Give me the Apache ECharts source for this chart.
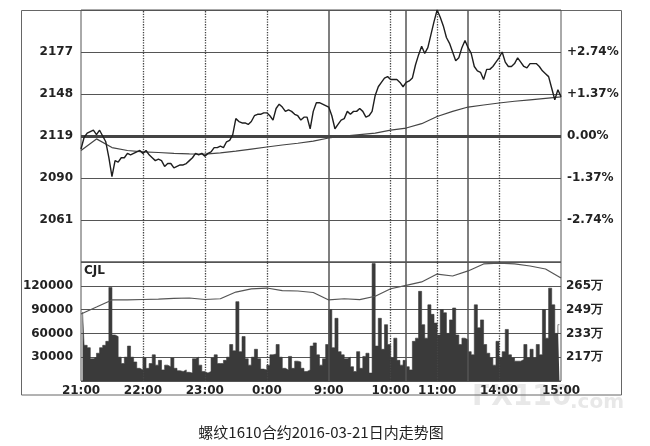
<!DOCTYPE html>
<html><head><meta charset="utf-8">
<script src="https://cdn.jsdelivr.net/npm/echarts@6/dist/echarts.min.js"></script>
<style>html,body{margin:0;padding:0;background:#fff}#c{width:650px;height:446px}</style>
</head><body><div id="c"></div>
<script>
// ---- data (x = trading-minute index from 21:00; night 21:00-1:00, day 9:00-10:15, 10:30-11:30, 13:30-15:00) ----
const priceStep = 3;
const price = [
  2110,2118,2121,2122,2123,2120,2123,2119,2115,2104,
  2091,2102,2101,2104,2104,2107,2106,2107,2108,2109,
  2107,2109,2106,2104,2102,2103,2102,2098,2100,2100,
  2097,2098,2099,2099,2100,2102,2104,2107,2106,2107,
  2105,2107,2108,2111,2111,2112,2111,2115,2116,2120,
  2131,2129,2128,2128,2127,2129,2133,2134,2134,2135,
  2135,2133,2130,2138,2141,2139,2136,2137,2136,2134,
  2133,2130,2132,2132,2124,2136,2142,2142,2141,2140,
  2139,2133,2124,2127,2130,2131,2136,2134,2136,2136,
  2138,2136,2132,2133,2136,2147,2153,2156,2159,2160,
  2158,2158,2158,2156,2153,2156,2157,2159,2168,2175,
  2181,2176,2180,2189,2198,2206,2201,2195,2187,2183,
  2177,2171,2173,2180,2185,2180,2176,2167,2164,2163,
  2158,2165,2165,2167,2170,2173,2177,2170,2167,2167,
  2169,2173,2170,2167,2166,2169,2169,2169,2167,2164,
  2162,2160,2152,2144,2151,2146
];
const avgStep = 15;
const avgPrice = [
  2109,2117,2111,2109,2108,2107.6,2107,2106.7,2106.5,2107.3,
  2108.6,2110,2111.4,2112.8,2114,2115.5,2117.6,2119,2120,2121,
  2123,2124.5,2127.5,2132.5,2136,2139,2140.4,2141.8,2143,2144,
  2145,2146
];
const volStep = 3;
const volume = [
  87000,45000,42000,28000,30000,35000,42000,45000,50000,118000,
  58000,56000,30000,22000,30000,44000,30000,24000,16000,14000,
  29000,16000,22000,33000,20000,26000,14000,20000,18000,29000,
  16000,13000,12000,14000,11000,10000,28000,30000,20000,12000,
  10000,12000,29000,33000,22000,22000,26000,30000,46000,38000,
  100000,37000,56000,28000,20000,30000,40000,28000,15000,14000,
  20000,33000,34000,46000,30000,16000,14000,31000,16000,25000,
  24000,16000,12000,14000,44000,48000,33000,20000,28000,46000,
  90000,42000,79000,37000,33000,28000,30000,18000,12000,37000,
  16000,31000,35000,10000,148000,44000,79000,40000,71000,46000,
  29000,54000,26000,20000,26000,18000,14000,50000,54000,113000,
  71000,54000,96000,84000,73000,58000,90000,86000,60000,77000,
  92000,58000,46000,54000,52000,37000,33000,96000,67000,77000,
  46000,35000,29000,20000,50000,29000,37000,65000,33000,29000,
  25000,25000,27000,46000,29000,40000,29000,46000,33000,90000,
  54000,117000,96000,60000,71000
];
const oiStep = 15;
const openInterest = [ // 万手
  246.0,250.7,255.5,255.5,255.8,256.1,256.5,256.8,255.8,256.3,
  260.8,262.9,263.5,261.8,261.5,260.5,255.5,256.3,255.7,258.0,
  263.0,265.3,267.6,272.9,271.6,275.0,279.7,280.3,279.7,278.3,
  276.3,270.2
];
const prevSettle = 2119;
const priceTicks = [2061, 2090, 2119, 2148, 2177];
const pctLabels = ['-2.74%', '-1.37%', '0.00%', '+1.37%', '+2.74%'];
const volTicks = [30000, 60000, 90000, 120000];
const oiTicks = [217, 233, 249, 265];
const oiLabels = ['217万', '233万', '249万', '265万'];
const timeTickPos = [0, 60, 120, 180, 240, 300, 345, 405, 465];
const timeTickLabels = ['21:00', '22:00', '23:00', '0:00', '9:00', '10:00', '11:00', '14:00', '15:00'];
const sessionBreaks = [240, 315, 375];
const hourLines = [60, 120, 180, 300, 345, 405];
const titleText = '螺纹1610合约2016-03-21日内走势图';

// ---- chart ----
const FONT = 'DejaVu Sans';
const lblStyle = { fontFamily: FONT, fontWeight: 'bold', fontSize: 12, color: '#222' };
const vLines = [
  ...sessionBreaks.map(x => ({ xAxis: x, lineStyle: { type: 'solid', color: '#555', width: 1.5 } })),
  ...hourLines.map(x => ({ xAxis: x, lineStyle: { type: 'dotted', color: '#444', width: 1.3 } }))
];
const chart = echarts.init(document.getElementById('c'), null, { renderer: 'canvas' });
chart.setOption({
  animation: false,
  backgroundColor: '#fff',
  grid: [
    { left: 81, top: 10, width: 480, height: 252, show: true, borderColor: '#555', borderWidth: 1, backgroundColor: 'transparent' },
    { left: 81, top: 262, width: 480, height: 119, show: true, borderColor: '#555', borderWidth: 1, backgroundColor: 'transparent' }
  ],
  xAxis: [
    { type: 'value', gridIndex: 0, min: 0, max: 465, interval: 15, axisLine: { show: false }, axisTick: { show: false }, splitLine: { show: false }, axisLabel: { show: false } },
    { type: 'value', gridIndex: 1, min: 0, max: 465, interval: 15, axisLine: { show: false }, axisTick: { show: false }, splitLine: { show: false },
      axisLabel: Object.assign({ margin: 4, showMinLabel: true, showMaxLabel: true,
        formatter: v => { const i = timeTickPos.indexOf(Math.round(v)); return i >= 0 ? timeTickLabels[i] : ''; } }, lblStyle) }
  ],
  yAxis: [
    { type: 'value', gridIndex: 0, min: 2032, max: 2206, interval: 29, position: 'left',
      axisLine: { show: false }, axisTick: { show: false },
      splitLine: { show: true, lineStyle: { color: '#555', width: 1 } },
      axisLabel: Object.assign({ margin: 8, formatter: v => priceTicks.includes(Math.round(v)) ? String(Math.round(v)) : '' }, lblStyle) },
    { type: 'value', gridIndex: 0, min: 2032, max: 2206, interval: 29, position: 'right',
      axisLine: { show: false }, axisTick: { show: false }, splitLine: { show: false },
      axisLabel: Object.assign({ margin: 6, formatter: v => { const i = priceTicks.indexOf(Math.round(v)); return i >= 0 ? pctLabels[i] : ''; } }, lblStyle) },
    { type: 'value', gridIndex: 1, min: 0, max: 150000, interval: 30000, position: 'left',
      axisLine: { show: false }, axisTick: { show: false },
      splitLine: { show: true, lineStyle: { color: '#555', width: 1 } },
      axisLabel: Object.assign({ margin: 8, formatter: v => volTicks.includes(Math.round(v)) ? String(Math.round(v)) : '' }, lblStyle) },
    { type: 'value', gridIndex: 1, min: 201, max: 281, interval: 16, position: 'right',
      axisLine: { show: false }, axisTick: { show: false }, splitLine: { show: false },
      axisLabel: Object.assign({ margin: 5, formatter: v => { const i = oiTicks.indexOf(Math.round(v)); return i >= 0 ? oiLabels[i] : ''; } }, lblStyle) }
  ],
  series: [
    { name: 'avg', type: 'line', xAxisIndex: 0, yAxisIndex: 0, showSymbol: false, z: 2,
      lineStyle: { color: '#444', width: 1.2 },
      data: avgPrice.map((v, i) => [i * avgStep, v]),
      markLine: { silent: true, symbol: 'none', label: { show: false }, z: 1,
        data: [...vLines, { yAxis: prevSettle, lineStyle: { type: 'solid', color: '#444', width: 3 } }] } },
    { name: 'price', type: 'line', xAxisIndex: 0, yAxisIndex: 0, showSymbol: false, z: 3,
      lineStyle: { color: '#1e1e1e', width: 1.4 },
      data: price.map((v, i) => [i * priceStep, v]) },
    { name: 'volume', type: 'line', step: 'middle', xAxisIndex: 1, yAxisIndex: 2, showSymbol: false, z: 2,
      lineStyle: { width: 0.6, color: '#3a3a3a' },
      areaStyle: { color: '#3a3a3a', opacity: 1 },
      data: volume.map((v, i) => [i * volStep + volStep / 2, v]),
      markLine: { silent: true, symbol: 'none', label: { show: false }, data: vLines } },
    { name: 'oi', type: 'line', xAxisIndex: 1, yAxisIndex: 3, showSymbol: false, z: 3,
      lineStyle: { color: '#555', width: 1.2 },
      data: openInterest.map((v, i) => [i * oiStep, v]) }
  ],
  graphic: [
    { type: 'rect', z: -1, shape: { x: 21.5, y: 10.5, width: 600, height: 384.5 }, style: { fill: 'none', stroke: '#666', lineWidth: 1 } },
    { type: 'text', z: -2, x: 472, y: 384, style: { text: 'FX110', font: 'bold 28px DejaVu Sans', fill: '#e8e8e8' } },
    { type: 'text', z: -2, x: 570, y: 393, style: { text: '.com', font: 'bold 20px DejaVu Sans', fill: '#e8e8e8' } },
    { type: 'text', x: 84, y: 265, style: { text: 'CJL', font: 'bold 12px DejaVu Sans', fill: '#222' } },
    { type: 'text', x: 321, y: 425, style: { text: titleText, font: '15px "Noto Sans CJK SC"', fill: '#222', textAlign: 'center' } }
  ]
});
</script></body></html>
